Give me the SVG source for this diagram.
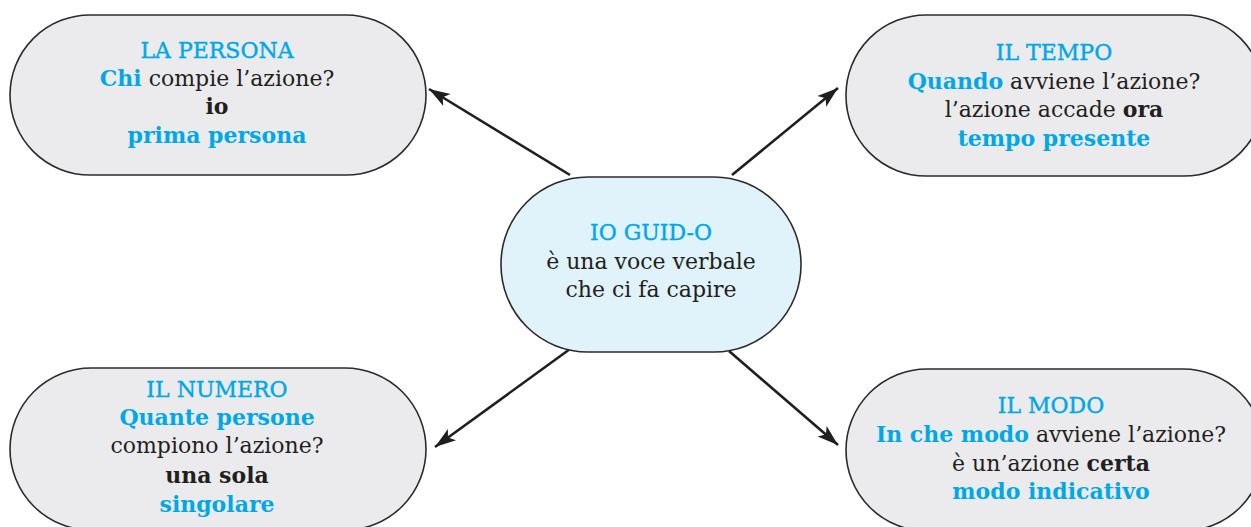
<svg xmlns="http://www.w3.org/2000/svg" width="1251" height="527" viewBox="0 0 1251 527">
<defs>
<style>
.pill{fill:#ebebed;stroke:#2b2b2b;stroke-width:1.6}
.center{fill:#e0f2fa;stroke:#2b2b2b;stroke-width:1.6}
text{font-family:"DejaVu Serif","Liberation Serif",serif;font-size:22px;fill:#231f20;text-anchor:middle}
.b{font-weight:bold}
.c{fill:#00a8e8}
.t{fill:#00a8e8;stroke:#00a8e8;stroke-width:0.4}
.con{stroke:#1f1f1f;stroke-width:2.6;fill:none;marker-end:url(#ah)}
</style>
<marker id="ah" viewBox="-22 -8 23 16" markerWidth="23" markerHeight="16" refX="0" refY="0" orient="auto" markerUnits="userSpaceOnUse">
<path d="M0,0 L-21,-7 L-16,0 L-21,7 Z" fill="#1f1f1f"/>
</marker>
</defs>
<rect width="1251" height="527" fill="#ffffff"/>
<g id="connectors">
<line class="con" x1="570" y1="175" x2="429" y2="89"/>
<line class="con" x1="732" y1="175" x2="838" y2="88"/>
<line class="con" x1="570" y1="349" x2="435" y2="447"/>
<line class="con" x1="729" y1="351" x2="838" y2="445"/>
</g>
<g id="node-persona">
<rect class="pill" x="10" y="15" width="416" height="160" rx="80" ry="80"/>
<text x="217" y="58" class="t">LA PERSONA</text>
<text x="217" y="86"><tspan class="b c">Chi</tspan> compie l’azione?</text>
<text x="217" y="114" class="b">io</text>
<text x="217" y="143" class="b c">prima persona</text>
</g>
<g id="node-tempo">
<rect class="pill" x="846" y="15" width="418" height="161" rx="80" ry="80"/>
<text x="1054" y="60" class="t">IL TEMPO</text>
<text x="1054" y="89"><tspan class="b c">Quando</tspan> avviene l’azione?</text>
<text x="1054" y="117">l’azione accade <tspan class="b">ora</tspan></text>
<text x="1054" y="146" class="b c">tempo presente</text>
</g>
<g id="node-center">
<rect class="center" x="501" y="177" width="300" height="175" rx="87" ry="87"/>
<text x="651" y="240" class="t">IO GUID-O</text>
<text x="651" y="269">è una voce verbale</text>
<text x="651" y="297">che ci fa capire</text>
</g>
<g id="node-numero">
<rect class="pill" x="10" y="368" width="416" height="162" rx="81" ry="81"/>
<text x="217" y="397" class="t">IL NUMERO</text>
<text x="217" y="425" class="b c">Quante persone</text>
<text x="217" y="453">compiono l’azione?</text>
<text x="217" y="483" class="b">una sola</text>
<text x="217" y="512" class="b c">singolare</text>
</g>
<g id="node-modo">
<rect class="pill" x="846" y="369" width="418" height="162" rx="81" ry="81"/>
<text x="1051" y="413" class="t">IL MODO</text>
<text x="1051" y="442"><tspan class="b c">In che modo</tspan> avviene l’azione?</text>
<text x="1051" y="471">è un’azione <tspan class="b">certa</tspan></text>
<text x="1051" y="499" class="b c">modo indicativo</text>
</g>
</svg>
